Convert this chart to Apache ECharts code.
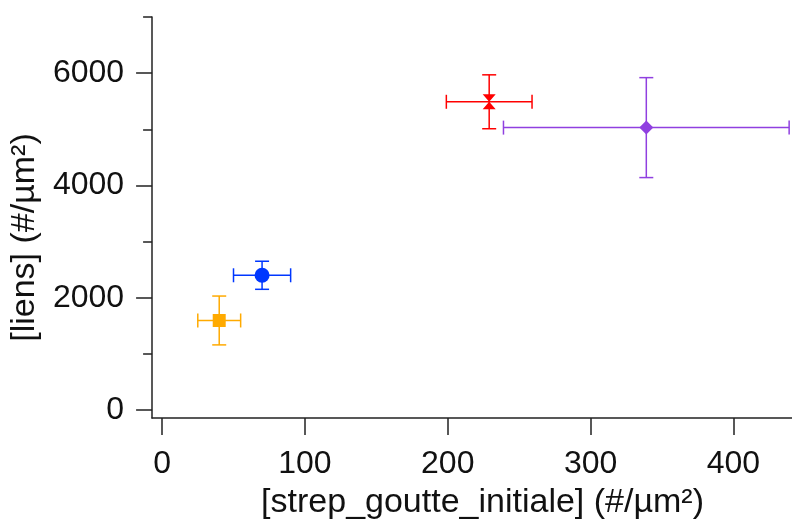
<!DOCTYPE html>
<html>
<head>
<meta charset="utf-8">
<script src="https://cdn.jsdelivr.net/npm/echarts@6/dist/echarts.min.js"></script>
<style>html,body{margin:0;padding:0;background:#fff;}#c{width:792px;height:525px;}</style>
</head>
<body>
<div id="c"></div>
<script>
// Data
const pointNames = ['orange', 'blue', 'red', 'purple'];
const xValues = [40, 70, 229, 339];
const yValues = [1595, 2400, 5490, 5030];
const xErrors = [15, 20, 30, 100];
const yErrors = [435, 250, 480, 890];
const xTicks = [0, 100, 200, 300, 400];
const yMajorTicks = [0, 2000, 4000, 6000];
const yMinorTicks = [1000, 3000, 5000, 7000];

const colors = ['#FFAA00', '#0037FF', '#FF0000', '#9040E0'];
const symbols = [
  'rect',
  'circle',
  'path://M0,0 L10,0 L5,5 L10,10 L0,10 L5,5 Z',
  'diamond'
];
const symbolSizes = [[13, 13], [15, 15], [13, 15], [14, 14]];

const FONT = 'Liberation Sans, Arial, sans-serif';
const chart = echarts.init(document.getElementById('c'));

const errData = pointNames.map((n, i) => [xValues[i], yValues[i], xErrors[i], yErrors[i]]);

const scatterSeries = pointNames.map((n, i) => ({
  type: 'scatter',
  name: n,
  data: [[xValues[i], yValues[i]]],
  symbol: symbols[i],
  symbolSize: symbolSizes[i],
  itemStyle: { color: colors[i], opacity: 1 },
  z: 5,
  silent: true
}));

const plain = v => String(v);
const CAP = 7;
chart.setOption({
  animation: false,
  backgroundColor: '#fff',
  grid: { left: 151, right: 0, top: 17, bottom: 106, containLabel: false },
  xAxis: {
    type: 'value', min: -7, max: 441,
    position: 'bottom',
    axisLine: { show: true, onZero: false, lineStyle: { color: '#222', width: 1.5 } },
    axisTick: { show: true, inside: false, length: 17, customValues: xTicks, lineStyle: { color: '#222', width: 1.5 } },
    axisLabel: { customValues: xTicks, formatter: plain, fontFamily: FONT, fontSize: 32, color: '#111', margin: 30 },
    splitLine: { show: false },
    name: '[strep_goutte_initiale] (#/µm²)',
    nameLocation: 'middle', nameGap: 68,
    nameTextStyle: { fontFamily: FONT, fontSize: 34, color: '#111', padding: [0, 0, 0, 21] }
  },
  yAxis: [{
    type: 'value', min: -142, max: 7000,
    position: 'left',
    axisLine: { show: true, onZero: false, lineStyle: { color: '#222', width: 1.5 } },
    axisTick: { show: true, inside: false, length: 16, customValues: yMajorTicks, lineStyle: { color: '#222', width: 1.5 } },
    axisLabel: { customValues: yMajorTicks, formatter: plain, fontFamily: FONT, fontSize: 32, color: '#111', margin: 28 },
    splitLine: { show: false },
    name: '[liens] (#/µm²)',
    nameLocation: 'middle', nameGap: 101,
    nameTextStyle: { fontFamily: FONT, fontSize: 34, color: '#111', padding: [0, 40, 0, 0] }
  }, {
    type: 'value', min: -142, max: 7000,
    position: 'left',
    axisLine: { show: false, onZero: false },
    axisTick: { show: true, inside: false, length: 9, customValues: yMinorTicks, lineStyle: { color: '#222', width: 1.5 } },
    axisLabel: { show: false },
    splitLine: { show: false }
  }],
  series: [{
    type: 'custom',
    name: 'errors',
    silent: true,
    z: 2,
    data: errData,
    renderItem: function (params, api) {
      const x = api.value(0), y = api.value(1), ex = api.value(2), ey = api.value(3);
      const c = api.coord([x, y]);
      const l = api.coord([x - ex, y]);
      const r = api.coord([x + ex, y]);
      const t = api.coord([x, y + ey]);
      const b = api.coord([x, y - ey]);
      const style = { stroke: colors[params.dataIndex], lineWidth: 1.5, fill: null };
      const line = (x1, y1, x2, y2) => ({ type: 'line', shape: { x1, y1, x2, y2 }, style });
      return {
        type: 'group',
        children: [
          line(l[0], c[1], r[0], c[1]),
          line(l[0], c[1] - CAP, l[0], c[1] + CAP),
          line(r[0], c[1] - CAP, r[0], c[1] + CAP),
          line(c[0], t[1], c[0], b[1]),
          line(c[0] - CAP, t[1], c[0] + CAP, t[1]),
          line(c[0] - CAP, b[1], c[0] + CAP, b[1])
        ]
      };
    }
  }].concat(scatterSeries)
});
</script>
</body>
</html>
